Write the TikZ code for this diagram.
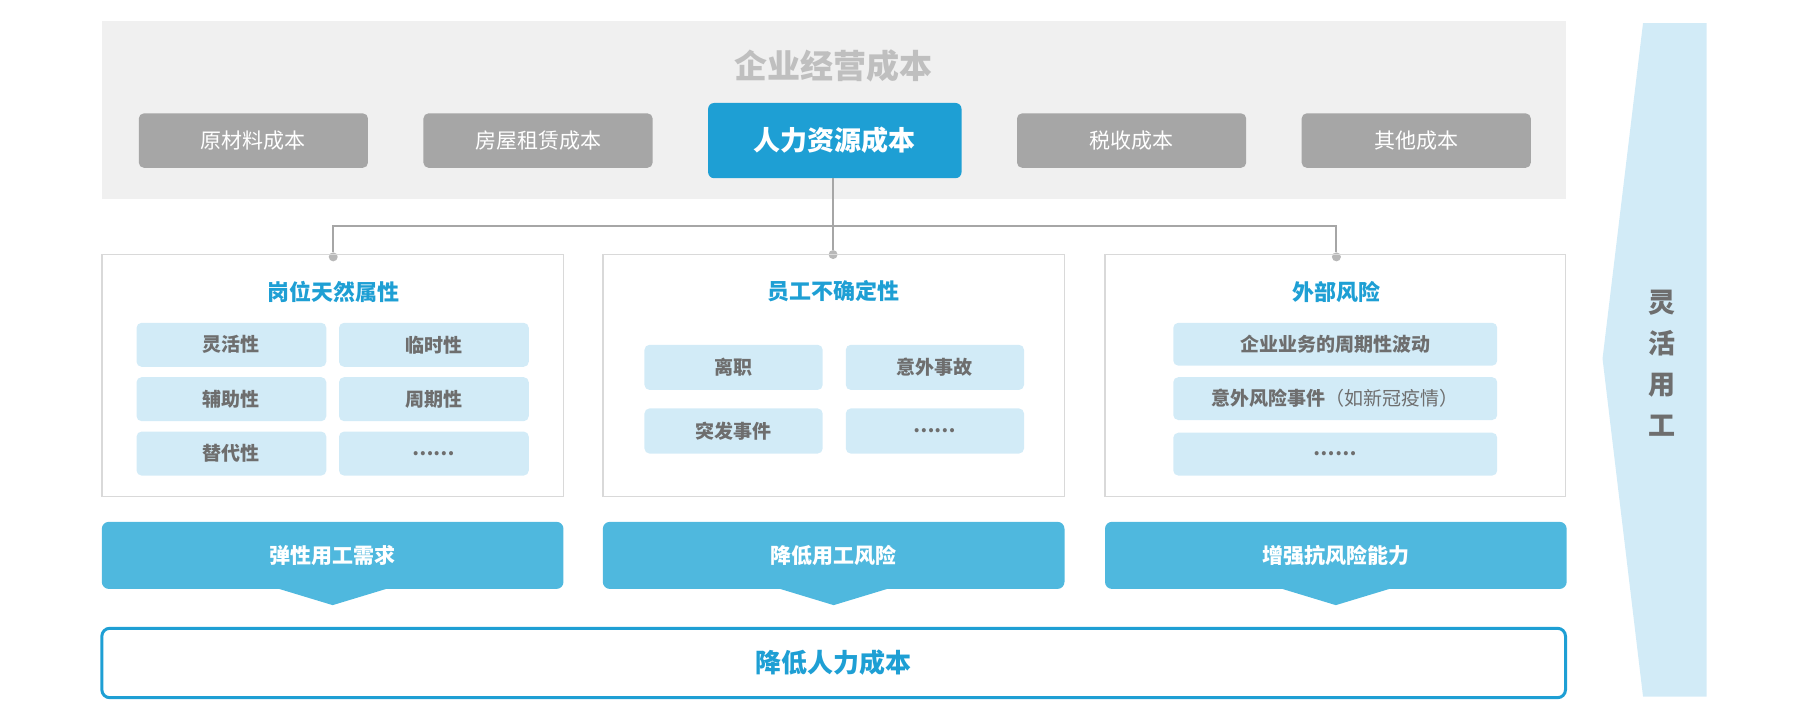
\documentclass[tikz,border=0pt]{standalone}
\usepackage{fontspec}
\setmainfont{Noto Sans CJK SC}
\definecolor{bgg}{HTML}{F0F0F0}
\definecolor{btn}{HTML}{A6A6A6}
\definecolor{blu}{HTML}{1E9FD4}
\definecolor{lb}{HTML}{D2EBF7}
\definecolor{ban}{HTML}{4FB8DE}
\definecolor{tg}{HTML}{6E6E6E}
\definecolor{bd}{HTML}{D9D9D9}
\begin{document}
\begin{tikzpicture}[x=1.157pt,y=-1.157pt,
  cost/.style={fill=btn,rounded corners=5pt,text=white,font=\fontsize{21}{21}\selectfont},
  item/.style={fill=lb,rounded corners=5pt,text=tg,font=\bfseries\fontsize{19}{19}\selectfont},
  ttl/.style={text=blu,font=\bfseries\fontsize{22}{22}\selectfont},
  boxs/.style={draw=bd,line width=1.5pt},
  bant/.style={text=white,font=\bfseries\fontsize{21}{21}\selectfont},
  dot/.style={circle,fill=btn!80,inner sep=0pt,minimum size=9pt}]
\useasboundingbox (0,0) rectangle (1560,622);
\fill[bgg] (88,18) rectangle (1353,172);
\node[text=black!25,font=\bfseries\fontsize{33}{33}\selectfont] (title) at (720,57) {企业经营成本};
\fill[cost] (120,98) rectangle (318,145); \node[text=white,font=\fontsize{21}{21}\selectfont] (c1) at (219,121.5) {原材料成本};
\fill[cost] (366,98) rectangle (564,145); \node[text=white,font=\fontsize{21}{21}\selectfont] (c2) at (465,121.5) {房屋租赁成本};
\fill[blu,rounded corners=6pt] (612,89) rectangle (831,154); \node[text=white,font=\bfseries\fontsize{27}{27}\selectfont] (c3) at (721.5,121.5) {人力资源成本};
\fill[cost] (879,98) rectangle (1077,145); \node[text=white,font=\fontsize{21}{21}\selectfont] (c4) at (978,121.5) {税收成本};
\fill[cost] (1125,98) rectangle (1323,145); \node[text=white,font=\fontsize{21}{21}\selectfont] (c5) at (1224,121.5) {其他成本};
\coordinate (hub) at (720,154);
\node[dot] (d1) at (288,222) {}; \node[dot] (d2) at (720,220) {}; \node[dot] (d3) at (1155,222) {};
\draw[btn,line width=2pt] (hub) -- (720,195) -| (d1);
\draw[btn,line width=2pt] (hub) -- (d2);
\draw[btn,line width=2pt] (720,195) -| (d3);
% boxes
\draw[boxs] (88,220) rectangle (487,429);
\draw[boxs] (521,220) rectangle (920,429);
\draw[boxs] (955,220) rectangle (1353,429);
\node[ttl] (t1) at (288,252) {岗位天然属性};
\node[ttl] (t2) at (720,252) {员工不确定性};
\node[ttl] (t3) at (1155,252) {外部风险};
% box1
\foreach \x/\y/\t [count=\i] in {118/279/灵活性,293/279/临时性,118/326/辅助性,293/326/周期性,118/373/替代性,293/373/……}{
  \fill[lb,rounded corners=5pt] (\x,\y) rectangle ++(164,38);
  \node[item,fill=none] (a\i) at (\x+82,\y+19) {\t};}
\foreach \x/\y/\t [count=\i] in {557/298/离职,731/298/意外事故,557/353/突发事件,731/353/……}{
  \fill[lb,rounded corners=5pt] (\x,\y) rectangle ++(154,39);
  \node[item,fill=none] (b\i) at (\x+77,\y+19.5) {\t};}
\foreach \y/\t [count=\i] in {279/企业业务的周期性波动,326/{意外风险事件\mdseries（如新冠疫情）},374/……}{
  \fill[lb,rounded corners=5pt] (1014,\y) rectangle ++(280,37);
  \node[item,fill=none] (e\i) at (1154,\y+18.5) {\t};}
% banners
\foreach \x/\t [count=\i] in {88/弹性用工需求,521/降低用工风险,955/增强抗风险能力}{
  \fill[ban,rounded corners=7pt] (\x,451) rectangle ++(399,58);
  \fill[ban] (\x+150,508) -- (\x+199.5,523) -- (\x+249,508) -- cycle;
  \node[bant] (n\i) at (\x+199.5,480) {\t};}
\draw[blu,line width=3pt,rounded corners=8pt] (88,543) rectangle (1353,603);
\node[text=blu,font=\bfseries\fontsize{26}{26}\selectfont] (fin) at (720,573) {降低人力成本};
\fill[lb] (1420,20) -- (1475,20) -- (1475,602) -- (1420,602) -- (1385,310) -- cycle;
\node[text=tg,font=\bfseries\fontsize{27}{27}\selectfont,align=center] (v) at (1436,314) {灵\\[14pt]活\\[14pt]用\\[14pt]工};
\end{tikzpicture}
\end{document}
